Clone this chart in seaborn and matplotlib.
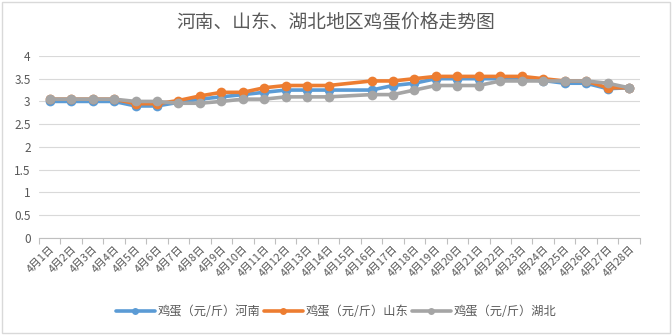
import numpy as np
import pandas as pd
import matplotlib
matplotlib.use("Agg")
import matplotlib.pyplot as plt
import seaborn as sns
from matplotlib.patches import Rectangle

days = [f"4月{d}日" for d in range(1, 29)]
nan = np.nan
henan = [3.0, 3.0, 3.0, 3.0, 2.9, 2.9, 2.98, 3.05, 3.1, 3.15, 3.2, 3.25, 3.25, 3.25, nan,
         3.25, 3.35, 3.4, 3.5, 3.5, 3.5, 3.5, 3.48, 3.46, 3.4, 3.4, 3.28, 3.3]
shandong = [3.05, 3.05, 3.05, 3.05, 2.95, 2.95, 3.02, 3.12, 3.2, 3.2, 3.3, 3.35, 3.35, 3.35, nan,
            3.45, 3.45, 3.5, 3.55, 3.55, 3.55, 3.55, 3.55, 3.5, 3.45, 3.45, 3.3, 3.3]
hubei = [3.05, 3.05, 3.05, 3.05, 3.0, 3.0, 2.96, 2.96, 3.0, 3.05, 3.05, 3.1, 3.1, 3.1, nan,
         3.15, 3.15, 3.25, 3.35, 3.35, 3.35, 3.45, 3.45, 3.45, 3.45, 3.45, 3.4, 3.3]
series_names = ["鸡蛋（元/斤）河南", "鸡蛋（元/斤）山东", "鸡蛋（元/斤）湖北"]
colors = ["#5B9BD5", "#ED7D31", "#A5A5A5"]

sns.set_theme(style="white")
plt.rcParams['font.family'] = ['Noto Sans CJK SC', 'DejaVu Sans']

rows = []
for name, vals in zip(series_names, [henan, shandong, hubei]):
    for i, v in enumerate(vals):
        rows.append({"idx": i, "day": days[i], "price": v, "series": name})
df = pd.DataFrame(rows).dropna()

fig = plt.figure(figsize=(6.72, 3.35), dpi=100)
ax = fig.add_axes([0.058, 0.29, 0.894, 0.543])

sns.lineplot(data=df, x="idx", y="price", hue="series", hue_order=series_names,
             palette=colors, marker="o", markersize=7, markeredgewidth=0,
             linewidth=2.6, ax=ax, legend=True, sort=False)

ax.set_xlim(-0.5, 27.5)
ax.set_ylim(0, 4)
ax.set_yticks(np.arange(0, 4.01, 0.5))
ax.set_yticklabels(["0", "0.5", "1", "1.5", "2", "2.5", "3", "3.5", "4"])
ax.set_xticks(range(28))
ax.set_xticklabels(days, rotation=45, ha="right", rotation_mode="anchor")
ax.set_xticks(np.arange(-0.5, 28, 1), minor=True)
ax.tick_params(axis="x", which="major", length=0, labelsize=7.8, colors="#595959", pad=4)
ax.tick_params(axis="x", which="minor", length=4, color="#BFBFBF", width=0.8, bottom=True)
ax.tick_params(axis="y", length=0, labelsize=8.5, colors="#595959", pad=6)
ax.set_xlabel("")
ax.set_ylabel("")
ax.grid(axis="y", color="#D9D9D9", linewidth=0.8)
ax.set_axisbelow(True)
for s in ["top", "right", "left"]:
    ax.spines[s].set_visible(False)
ax.spines["bottom"].set_color("#BFBFBF")
ax.spines["bottom"].set_linewidth(0.8)

handles, labels = ax.get_legend_handles_labels()
ax.get_legend().remove()
for h in handles:
    h.set_markersize(5)
fig.legend(handles, labels, loc="center", bbox_to_anchor=(0.5, 0.07), ncol=3,
           frameon=False, fontsize=8.8, handlelength=3.2, handletextpad=0.2,
           columnspacing=0.3, labelcolor="#595959")

fig.text(0.5, 0.934, "河南、山东、湖北地区鸡蛋价格走势图", ha="center", va="center",
         fontsize=13.5, color="#595959")

fig.patches.append(Rectangle((0.003, 0.006), 0.994, 0.988, transform=fig.transFigure,
                             fill=False, edgecolor="#D9D9D9", linewidth=1))

fig.savefig("out.png", dpi=100)
